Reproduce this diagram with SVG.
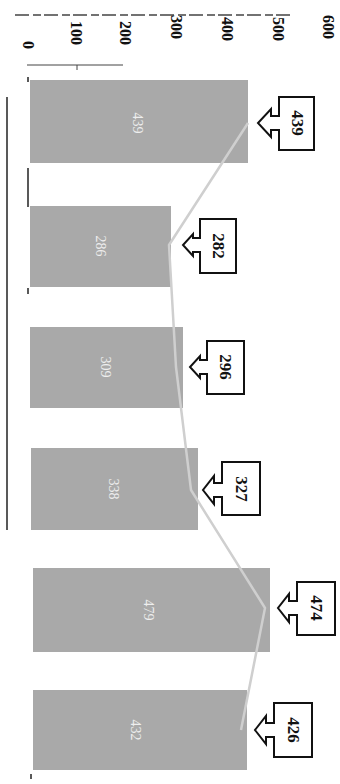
<svg xmlns="http://www.w3.org/2000/svg" width="340" height="784" viewBox="0 0 340 784">
<style>
.axl{font-family:"Liberation Serif",serif;font-weight:bold;font-size:16px;fill:#111;text-anchor:middle;dominant-baseline:central}
.bar{fill:#a9a9a9}
.bl{font-family:"Liberation Serif",serif;font-size:14px;fill:#eeeeee;text-anchor:middle;dominant-baseline:central}
.co{fill:#fff;stroke:#111;stroke-width:2;stroke-linejoin:miter}
.cv{font-family:"Liberation Serif",serif;font-weight:bold;font-size:17px;fill:#111;text-anchor:middle;dominant-baseline:central}
.ax{stroke:#222;stroke-width:1.5;fill:none}
</style>
<rect width="340" height="784" fill="#fff"/>
<g id="value-axis">
<line x1="15" y1="15" x2="292" y2="15" stroke="#444" stroke-width="1.5" stroke-dasharray="14 4 8 3"/>
<text class="axl" transform="translate(28,45) rotate(90)">0</text>
<text class="axl" transform="translate(76,33) rotate(90)">100</text>
<text class="axl" transform="translate(125,33) rotate(90)">200</text>
<text class="axl" transform="translate(176,27) rotate(90)">300</text>
<text class="axl" transform="translate(227,29) rotate(90)">400</text>
<text class="axl" transform="translate(278,29) rotate(90)">500</text>
<text class="axl" transform="translate(328,27) rotate(90)">600</text>
<line x1="27" y1="65" x2="123" y2="65" stroke="#444" stroke-width="1"/>
<line x1="77" y1="65" x2="77" y2="70" stroke="#444" stroke-width="1"/>
<line x1="28" y1="168" x2="28" y2="207" class="ax"/>
<line x1="28" y1="77" x2="28" y2="82" class="ax"/>
<line x1="28" y1="288" x2="28" y2="294" class="ax"/>
<line x1="31" y1="774" x2="31" y2="779" class="ax"/>
<line x1="7" y1="97" x2="7" y2="530" stroke="#222" stroke-width="1.5"/>
</g>
<g id="bar1"><rect class="bar" x="30" y="80" width="218" height="83"/><text class="bl" transform="translate(137,123) rotate(90)">439</text></g>
<g id="bar2"><rect class="bar" x="30" y="206" width="141" height="81"/><text class="bl" transform="translate(100,246) rotate(90)">286</text></g>
<g id="bar3"><rect class="bar" x="30" y="327" width="153" height="81"/><text class="bl" transform="translate(105,367) rotate(90)">309</text></g>
<g id="bar4"><rect class="bar" x="31" y="448" width="167" height="82"/><text class="bl" transform="translate(113,489) rotate(90)">338</text></g>
<g id="bar5"><rect class="bar" x="33" y="568" width="237" height="84"/><text class="bl" transform="translate(148,610) rotate(90)">479</text></g>
<g id="bar6"><rect class="bar" x="33" y="690" width="214" height="80"/><text class="bl" transform="translate(135,730) rotate(90)">432</text></g>
<g id="connectors">
<polyline points="248,123 169,245 176,367 191,490 265,608 241,730" fill="none" stroke="#cfcfcf" stroke-width="2.5" stroke-linejoin="round"/>
</g>
<g id="callout1"><path class="co" d="M279,97 H314 V150 H279 V130 H271 V137 L258,123 L271,109 V116 H279 Z"/><text class="cv" transform="translate(297,123) rotate(90)">439</text></g>
<g id="callout2"><path class="co" d="M200,219 H236 V273 H200 V252 H193 V256 L183,245 L193,234 V238 H200 Z"/><text class="cv" transform="translate(218,246) rotate(90)">282</text></g>
<g id="callout3"><path class="co" d="M207,341 H244 V394 H207 V374 H200 V378 L190,367 L200,356 V360 H207 Z"/><text class="cv" transform="translate(225,367) rotate(90)">296</text></g>
<g id="callout4"><path class="co" d="M222,462 H260 V515 H222 V497 H214 V504 L203,490 L214,476 V483 H222 Z"/><text class="cv" transform="translate(241,489) rotate(90)">327</text></g>
<g id="callout5"><path class="co" d="M297,582 H335 V635 H297 V615 H289 V622 L278,608 L289,594 V601 H297 Z"/><text class="cv" transform="translate(316,608) rotate(90)">474</text></g>
<g id="callout6"><path class="co" d="M274,703 H312 V757 H274 V737 H266 V744 L255,730 L266,716 V723 H274 Z"/><text class="cv" transform="translate(293,730) rotate(90)">426</text></g>
</svg>
